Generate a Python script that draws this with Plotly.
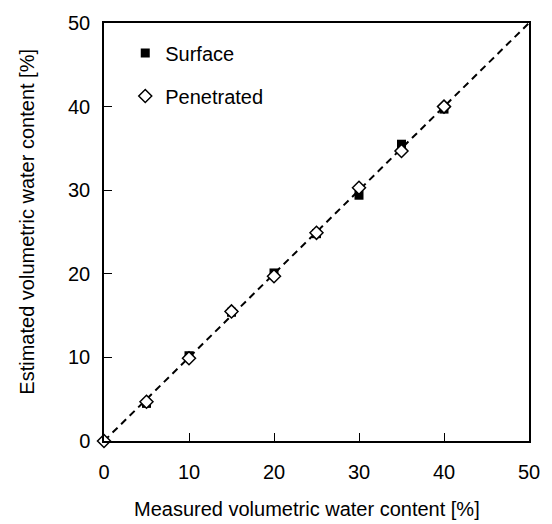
import plotly.graph_objects as go

measured_surface = [5, 10, 15, 20, 25, 30, 35, 40]
estimated_surface = [4.5, 10.2, 15.4, 20.1, 24.8, 29.4, 35.5, 39.7]
measured_penetrated = [0, 5, 10, 15, 20, 25, 30, 35, 40]
estimated_penetrated = [0.0, 4.7, 9.9, 15.5, 19.7, 24.9, 30.3, 34.7, 40.0]
line_x = [0, 50]
line_y = [0, 50]
tick_vals = [0, 10, 20, 30, 40, 50]
x_title = "Measured volumetric water content [%]"
y_title = "Estimated volumetric water content [%]"

FONT = "Liberation Sans, Arial"

fig = go.Figure()
fig.add_trace(go.Scatter(x=line_x, y=line_y, mode="lines",
                         line=dict(color="black", width=2, dash="7px,5px"),
                         showlegend=False, hoverinfo="skip"))
fig.add_trace(go.Scatter(x=measured_surface, y=estimated_surface, mode="markers",
                         name="Surface", legendgroup="a", cliponaxis=False,
                         marker=dict(symbol="square", size=9, color="black")))
fig.add_trace(go.Scatter(x=measured_penetrated, y=estimated_penetrated, mode="markers",
                         name="Penetrated", legendgroup="b", cliponaxis=False,
                         marker=dict(symbol="diamond", size=10, color="white",
                                     line=dict(color="black", width=1.5))))

axis_common = dict(range=[0, 50], tickvals=tick_vals, ticks="inside", ticklen=8,
                   tickcolor="black", tickwidth=1, showline=True, linecolor="black",
                   linewidth=1.5, mirror=True, showgrid=False, zeroline=False,
                   tickfont=dict(family=FONT, size=20, color="black"))

fig.update_layout(
    width=552, height=524,
    margin=dict(l=104, r=23, t=16, b=83),
    plot_bgcolor="white", paper_bgcolor="white",
    xaxis=dict(**axis_common, ticklabelstandoff=12),
    yaxis=dict(**axis_common, ticklabelstandoff=8),
    legend=dict(x=0.05, y=0.975, xanchor="left", yanchor="top",
                font=dict(family=FONT, size=20, color="black"),
                bgcolor="rgba(0,0,0,0)", tracegroupgap=14, traceorder="grouped",
                itemwidth=30),
    annotations=[
        dict(text=x_title, xref="paper", yref="paper",
             x=(307 - 104) / 425, y=-(510 - 441) / 425, xanchor="center", yanchor="middle",
             showarrow=False, font=dict(family=FONT, size=20, color="black")),
        dict(text=y_title, xref="paper", yref="paper", textangle=-90,
             x=-(104 - 27) / 425, y=(441 - 218) / 425, xanchor="center", yanchor="middle",
             showarrow=False, font=dict(family=FONT, size=20, color="black")),
    ],
)
fig.write_html("out.html")
